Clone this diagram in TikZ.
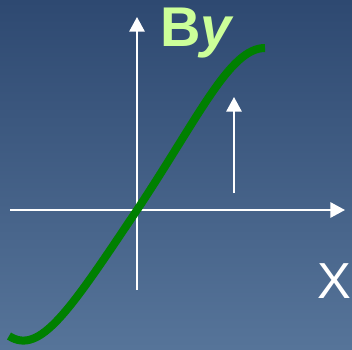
\documentclass[tikz,border=0pt]{standalone}
\usepackage{fontspec}
\setmainfont{Liberation Sans}
\usetikzlibrary{arrows.meta}
\definecolor{bgtop}{RGB}{46,73,113}
\definecolor{bgbot}{RGB}{86,116,153}
\definecolor{curvegreen}{RGB}{0,128,0}
\definecolor{labelgreen}{RGB}{204,255,153}
\tikzset{
  axis/.style={white, line width=1.5pt, -{Triangle[width=11.5pt, length=11pt]}},
}
\begin{document}
\begin{tikzpicture}[x=0.75pt, y=-0.75pt]
% background
\shade[top color=bgtop, bottom color=bgbot] (0,0) rectangle (352,349);
\useasboundingbox (0,0) rectangle (352,349);
% axes
\coordinate (xl) at (10,210);
\coordinate (xr) at (345,210);
\coordinate (yb) at (137,290);
\coordinate (yt) at (137,17);
\draw[axis] (xl) -- (xr);
\draw[axis] (yb) -- (yt);
% small arrow
\coordinate (ab) at (234,193);
\coordinate (at) at (234,97);
\draw[axis] (ab) -- (at);
% field curve
\draw[curvegreen, line width=6pt]
  (9,336) .. controls (40,356) and (70,310) .. (137,210)
  .. controls (200,115) and (230,48) .. (265,48);
% labels
\node[anchor=base west, inner sep=0pt, text=labelgreen, font=\fontsize{42}{44}\selectfont]
  (by) at (160,47) {\textbf{B\textit{y}}};
\node[anchor=base west, inner sep=0pt, text=white, font=\fontsize{38}{40}\selectfont]
  (xlabel) at (317,298) {X};
\end{tikzpicture}
\end{document}
